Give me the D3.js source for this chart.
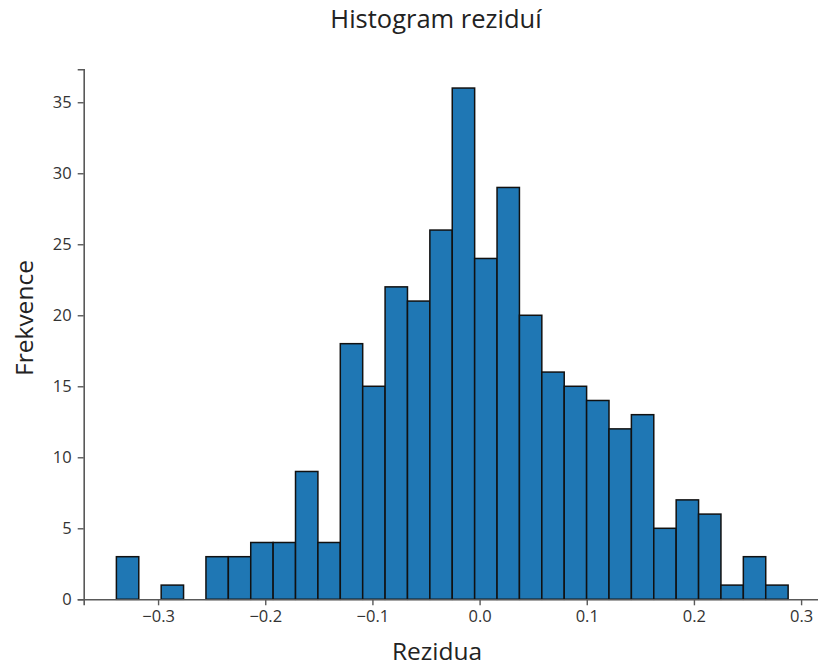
<!DOCTYPE html>
<html>
<head>
<meta charset="utf-8">
<script src="https://cdn.jsdelivr.net/npm/d3@7"></script>
<style>
  html, body { margin: 0; padding: 0; background: #fff; }
  svg { display: block; font-family: "Open Sans", sans-serif; }
</style>
</head>
<body>
<svg id="chart" width="818" height="669"></svg>
<script>
// Residual histogram: 30 equal-width bins between the residual min and max
const binStart = -0.3389;
const binEnd = 0.2879;
const counts = [3, 0, 1, 0, 3, 3, 4, 4, 9, 4, 18, 15, 22, 21, 26, 36, 24, 29, 20, 16, 15, 14, 12, 13, 5, 7, 6, 1, 3, 1];
const xTicks = [-0.3, -0.2, -0.1, 0.0, 0.1, 0.2, 0.3];
const yTicks = [0, 5, 10, 15, 20, 25, 30, 35];
const titleText = "Histogram reziduí";
const xLabel = "Rezidua";
const yLabel = "Frekvence";

const binWidth = (binEnd - binStart) / counts.length;
const bins = counts.map((c, i) => ({ x0: binStart + i * binWidth, x1: binStart + (i + 1) * binWidth, count: c }));

const svg = d3.select("#chart");
const plotLeft = 83.7, plotBottom = 599.3, plotTop = 69.3;

const x = d3.scaleLinear().domain([-0.3694, 0.3206]).range([plotLeft, plotLeft + 0.69 * 1071.7]);
const y = d3.scaleLinear().domain([0, 37.32]).range([plotBottom, plotTop]);

const textColor = "#333";
const spineColor = "#595959";

// bars
svg.append("g")
  .selectAll("rect")
  .data(bins.filter(d => d.count > 0))
  .join("rect")
  .attr("x", d => x(d.x0))
  .attr("width", d => x(d.x1) - x(d.x0))
  .attr("y", d => y(d.count))
  .attr("height", d => y(0) - y(d.count))
  .attr("fill", "#1f77b4")
  .attr("stroke", "#111")
  .attr("stroke-width", 1.5);

// x axis
const fmt = v => (v < 0 ? "\u2212" : "") + Math.abs(v).toFixed(1);
const xAxis = svg.append("g")
  .attr("transform", `translate(0,${plotBottom})`)
  .call(d3.axisBottom(x).tickValues(xTicks).tickFormat(fmt).tickSizeOuter(0).tickSize(6).tickPadding(5));

// y axis
const yAxis = svg.append("g")
  .attr("transform", `translate(${plotLeft},0)`)
  .call(d3.axisLeft(y).tickValues(yTicks).tickFormat(d3.format("d")).tickSizeOuter(0).tickSize(6).tickPadding(6));

[xAxis, yAxis].forEach(g => {
  g.select(".domain").attr("stroke", spineColor).attr("stroke-width", 1.6);
  g.selectAll(".tick line").attr("stroke", spineColor).attr("stroke-width", 1.4);
  g.selectAll(".tick text")
    .attr("fill", textColor)
    .style("font-family", "'Open Sans', sans-serif")
    .style("font-size", "16.5px");
});

// title and axis labels
svg.append("text")
  .attr("x", 436)
  .attr("y", 28)
  .attr("text-anchor", "middle")
  .attr("fill", "#222")
  .style("font-size", "25.5px")
  .text(titleText);

svg.append("text")
  .attr("x", 437)
  .attr("y", 660)
  .attr("text-anchor", "middle")
  .attr("fill", "#222")
  .style("font-size", "24.5px")
  .text(xLabel);

svg.append("text")
  .attr("transform", "translate(33,318) rotate(-90)")
  .attr("text-anchor", "middle")
  .attr("fill", "#222")
  .style("font-size", "24.5px")
  .text(yLabel);
</script>
</body>
</html>
